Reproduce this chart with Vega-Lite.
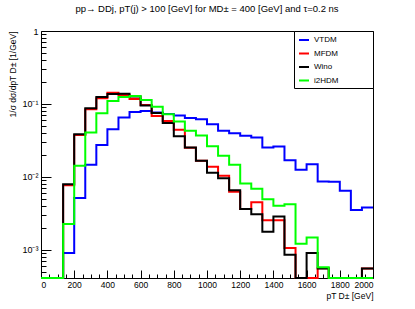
{
"$schema": "https://vega.github.io/schema/vega-lite/v6.json",
"width": 332, "height": 247,
"autosize": "none",
"padding": {"left": 41, "top": 31, "right": 42, "bottom": 31},
"background": "white",
"title": {"text": "pp→ DDj, pT(j) > 100 [GeV] for MD± = 400 [GeV] and τ=0.2 ns", "fontSize": 9.5, "font": "Liberation Sans", "fontWeight": "normal", "anchor": "middle", "offset": 14, "color": "black"},
"data": {"values": [
{"series":"VTDM","x":0,"y":0},{"series":"VTDM","x":66.67,"y":0},{"series":"VTDM","x":133.33,"y":0.000901},{"series":"VTDM","x":200,"y":0.00511},{"series":"VTDM","x":266.67,"y":0.0146},{"series":"VTDM","x":333.33,"y":0.0274},{"series":"VTDM","x":400,"y":0.045},{"series":"VTDM","x":466.67,"y":0.0653},{"series":"VTDM","x":533.33,"y":0.0777},{"series":"VTDM","x":600,"y":0.0802},{"series":"VTDM","x":666.67,"y":0.0765},{"series":"VTDM","x":733.33,"y":0.073},{"series":"VTDM","x":800,"y":0.0696},{"series":"VTDM","x":866.67,"y":0.0643},{"series":"VTDM","x":933.33,"y":0.0617},{"series":"VTDM","x":1000,"y":0.0527},{"series":"VTDM","x":1066.67,"y":0.0427},{"series":"VTDM","x":1133.33,"y":0.0397},{"series":"VTDM","x":1200,"y":0.0365},{"series":"VTDM","x":1266.67,"y":0.0345},{"series":"VTDM","x":1333.33,"y":0.0252},{"series":"VTDM","x":1400,"y":0.026},{"series":"VTDM","x":1466.67,"y":0.01694},{"series":"VTDM","x":1533.33,"y":0.01247},{"series":"VTDM","x":1600,"y":0.01483},{"series":"VTDM","x":1666.67,"y":0.00862},{"series":"VTDM","x":1733.33,"y":0.00854},{"series":"VTDM","x":1800,"y":0.00643},{"series":"VTDM","x":1866.67,"y":0.0035},{"series":"VTDM","x":1933.33,"y":0.0038},{"series":"VTDM","x":2000,"y":0.0038},
{"series":"MFDM","x":0,"y":0},{"series":"MFDM","x":66.67,"y":0},{"series":"MFDM","x":133.33,"y":0.00769},{"series":"MFDM","x":200,"y":0.0376},{"series":"MFDM","x":266.67,"y":0.0846},{"series":"MFDM","x":333.33,"y":0.1197},{"series":"MFDM","x":400,"y":0.1428},{"series":"MFDM","x":466.67,"y":0.1328},{"series":"MFDM","x":533.33,"y":0.117},{"series":"MFDM","x":600,"y":0.0969},{"series":"MFDM","x":666.67,"y":0.0685},{"series":"MFDM","x":733.33,"y":0.0585},{"series":"MFDM","x":800,"y":0.0441},{"series":"MFDM","x":866.67,"y":0.025},{"series":"MFDM","x":933.33,"y":0.01656},{"series":"MFDM","x":1000,"y":0.01371},{"series":"MFDM","x":1066.67,"y":0.01032},{"series":"MFDM","x":1133.33,"y":0.00623},{"series":"MFDM","x":1200,"y":0.00361},{"series":"MFDM","x":1266.67,"y":0.00448},{"series":"MFDM","x":1333.33,"y":0.00254},{"series":"MFDM","x":1400,"y":0.00254},{"series":"MFDM","x":1466.67,"y":0.00106},{"series":"MFDM","x":1533.33,"y":0},{"series":"MFDM","x":1600,"y":0},{"series":"MFDM","x":1666.67,"y":0.000557},{"series":"MFDM","x":1733.33,"y":0},{"series":"MFDM","x":1800,"y":0},{"series":"MFDM","x":1866.67,"y":0},{"series":"MFDM","x":1933.33,"y":0.000555},{"series":"MFDM","x":2000,"y":0.000555},
{"series":"Wino","x":0,"y":0},{"series":"Wino","x":66.67,"y":0},{"series":"Wino","x":133.33,"y":0.00794},{"series":"Wino","x":200,"y":0.0385},{"series":"Wino","x":266.67,"y":0.0873},{"series":"Wino","x":333.33,"y":0.1247},{"series":"Wino","x":400,"y":0.1371},{"series":"Wino","x":466.67,"y":0.1384},{"series":"Wino","x":533.33,"y":0.1268},{"series":"Wino","x":600,"y":0.0954},{"series":"Wino","x":666.67,"y":0.0753},{"series":"Wino","x":733.33,"y":0.0549},{"series":"Wino","x":800,"y":0.0359},{"series":"Wino","x":866.67,"y":0.0252},{"series":"Wino","x":933.33,"y":0.01656},{"series":"Wino","x":1000,"y":0.01135},{"series":"Wino","x":1066.67,"y":0.00953},{"series":"Wino","x":1133.33,"y":0.00657},{"series":"Wino","x":1200,"y":0.00361},{"series":"Wino","x":1266.67,"y":0.00308},{"series":"Wino","x":1333.33,"y":0.00177},{"series":"Wino","x":1400,"y":0.00286},{"series":"Wino","x":1466.67,"y":0.000855},{"series":"Wino","x":1533.33,"y":0},{"series":"Wino","x":1600,"y":0.000901},{"series":"Wino","x":1666.67,"y":0.000555},{"series":"Wino","x":1733.33,"y":0},{"series":"Wino","x":1800,"y":0},{"series":"Wino","x":1866.67,"y":0},{"series":"Wino","x":1933.33,"y":0.000555},{"series":"Wino","x":2000,"y":0.000555},
{"series":"i2HDM","x":0,"y":0},{"series":"i2HDM","x":66.67,"y":0},{"series":"i2HDM","x":133.33,"y":0.00225},{"series":"i2HDM","x":200,"y":0.01415},{"series":"i2HDM","x":266.67,"y":0.0404},{"series":"i2HDM","x":333.33,"y":0.0746},{"series":"i2HDM","x":400,"y":0.11},{"series":"i2HDM","x":466.67,"y":0.1247},{"series":"i2HDM","x":533.33,"y":0.1287},{"series":"i2HDM","x":600,"y":0.1135},{"series":"i2HDM","x":666.67,"y":0.0918},{"series":"i2HDM","x":733.33,"y":0.0722},{"series":"i2HDM","x":800,"y":0.0572},{"series":"i2HDM","x":866.67,"y":0.0427},{"series":"i2HDM","x":933.33,"y":0.037},{"series":"i2HDM","x":1000,"y":0.0262},{"series":"i2HDM","x":1066.67,"y":0.0194},{"series":"i2HDM","x":1133.33,"y":0.0146},{"series":"i2HDM","x":1200,"y":0.0081},{"series":"i2HDM","x":1266.67,"y":0.00685},{"series":"i2HDM","x":1333.33,"y":0.00492},{"series":"i2HDM","x":1400,"y":0.00401},{"series":"i2HDM","x":1466.67,"y":0.0042},{"series":"i2HDM","x":1533.33,"y":0.00121},{"series":"i2HDM","x":1600,"y":0.00147},{"series":"i2HDM","x":1666.67,"y":0.000576},{"series":"i2HDM","x":1733.33,"y":0},{"series":"i2HDM","x":1800,"y":0},{"series":"i2HDM","x":1866.67,"y":0},{"series":"i2HDM","x":1933.33,"y":0},{"series":"i2HDM","x":2000,"y":0}
]},
"layer": [
{
"mark": {"type": "line", "interpolate": "step-after", "strokeWidth": 2, "invalid": "show", "clip": false},
"encoding": {
"x": {"field": "x", "type": "quantitative", "scale": {"domain": [0, 2000], "nice": false, "zero": false},
 "axis": {"orient": "bottom", "values": [0,200,400,600,800,1000,1200,1400,1600,1800,2000], "format": "d", "tickSize": -8, "labelPadding": 10, "domain": false, "labelFontSize": 8.5, "title": "pT D± [GeV]", "titleAnchor": "end", "titleAlign": "right", "titlePadding": 3, "titleFontSize": 8.5}},
"y": {"field": "y", "type": "quantitative", "scale": {"type": "log", "domain": [0.00041, 1], "nice": false, "clamp": true},
 "axis": {"orient": "left", "values": [0.001, 0.01, 0.1, 1], "labelExpr": "datum.value >= 1 ? '1' : datum.value >= 0.1 ? '10⁻¹' : datum.value >= 0.01 ? '10⁻²' : '10⁻³'", "tickSize": -10, "labelPadding": 13, "domain": false, "labelFontSize": 9, "title": "1/σ dσ/dpT D± [1/GeV]", "titleAnchor": "end", "titleAlign": "right", "titlePadding": 4, "titleFontSize": 8.5}},
"color": {"field": "series", "type": "nominal", "scale": {"domain": ["VTDM", "MFDM", "Wino", "i2HDM"], "range": ["#0000ff", "#ff0000", "#000000", "#00ff00"]},
 "legend": {"labelExpr": "datum.label + '\u00a0\u00a0\u00a0\u00a0\u00a0\u00a0\u00a0\u00a0\u00a0\u00a0\u00a0\u00a0\u00a0\u00a0\u200b'"}}
}
},
{
"mark": {"type": "line", "interpolate": "step-after", "opacity": 0, "invalid": "show"},
"encoding": {
"x": {"field": "x", "type": "quantitative", "axis": {"orient": "bottom", "values": [50,100,150,250,300,350,450,500,550,650,700,750,850,900,950,1050,1100,1150,1250,1300,1350,1450,1500,1550,1650,1700,1750,1850,1900,1950], "tickSize": -4, "labels": false, "domain": false, "title": null}},
"y": {"field": "y", "type": "quantitative", "axis": {"orient": "left", "values": [0.0005,0.0006,0.0007,0.0008,0.0009,0.002,0.003,0.004,0.005,0.006,0.007,0.008,0.009,0.02,0.03,0.04,0.05,0.06,0.07,0.08,0.09,0.2,0.3,0.4,0.5,0.6,0.7,0.8,0.9], "tickSize": -5, "labels": false, "domain": false, "title": null}},
"detail": {"field": "series"}
}
}
],
"resolve": {"axis": {"x": "independent", "y": "independent"}},
"config": {
"view": {"stroke": "black", "strokeWidth": 1},
"font": "Liberation Sans",
"axis": {"tickColor": "black", "labelColor": "black", "titleColor": "black", "grid": false, "labelFont": "Liberation Sans", "titleFont": "Liberation Sans", "titleFontWeight": "normal", "tickWidth": 1},
"legend": {"orient": "top-right", "offset": 0, "title": null, "symbolType": "stroke", "symbolStrokeWidth": 2, "symbolSize": 100, "labelFontSize": 8, "padding": 3, "rowPadding": 3.5, "strokeColor": "black", "fillColor": "white", "labelFont": "Liberation Sans", "labelColor": "black", "labelOffset": 4, "symbolOffset": 1}
}
}
